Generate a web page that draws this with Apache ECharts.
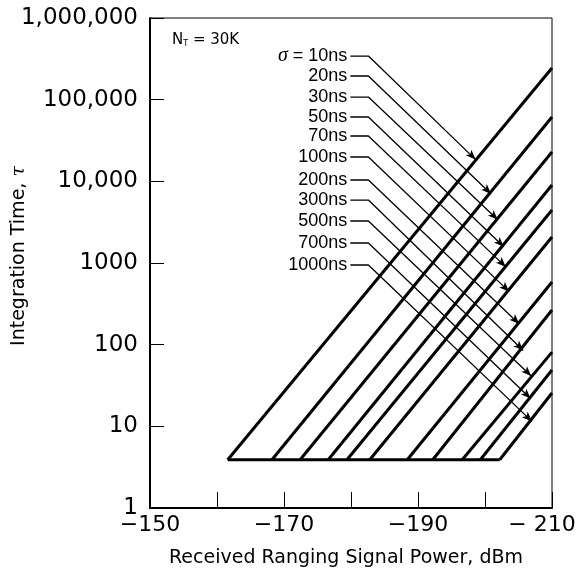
<!DOCTYPE html>
<html>
<head>
<meta charset="utf-8">
<script src="https://cdn.jsdelivr.net/npm/echarts@6/dist/echarts.min.js"></script>
<style>
  html, body { margin: 0; padding: 0; background: #fff; }
  #chart { width: 579px; height: 575px; }
</style>
</head>
<body>
<div id="chart"></div>
<script>
// values
var sigmaLabels = ['10ns', '20ns', '30ns', '50ns', '70ns', '100ns', '200ns', '300ns', '500ns', '700ns', '1000ns'];
var floorTau = 3.9;
var floorStart = -161.6;
var floorEnd = -202.2;
// dBm where each line leaves the floor
var curveStart = [-161.6, -168.2, -172.4, -176.6, -179.4, -182.8, -188.4, -192.2, -196.6, -199.3, -202.2];
// tau where each line meets -210 dBm
var curveEnd = [244000, 61300, 22900, 9010, 4450, 2080, 585, 266, 81, 49, 25.6];
// leader lines: label height, bend, arrow tip
var labelX = -179.9;
var bendX = -182.6;
var leaderY = [342000, 195000, 107700, 61300, 35900, 19850, 10380, 5900, 3270, 1758, 945];
var tipX = [-198.6, -200.9, -201.9, -202.8, -203.1, -203.6, -205.1, -205.7, -206.9, -206.8, -207.0];
var tipY = [18450, 7000, 3380, 1580, 896, 446, 179, 85, 41.3, 21.9, 11.5];

var yTickLabels = ['1', '10', '100', '1000', '10,000', '100,000', '1,000,000'];
var xTickLabels = { '-150': '−150', '-170': '−170', '-190': '−190', '-210': '{r|− 210}' };

var chart = echarts.init(document.getElementById('chart'));

var series = [];
series.push({
  type: 'line',
  data: [[floorStart, floorTau], [floorEnd, floorTau]],
  symbol: 'none',
  lineStyle: { color: '#000', width: 3 },
  silent: true
});
for (var i = 0; i < curveStart.length; i++) {
  series.push({
    type: 'line',
    data: [[curveStart[i], floorTau], [-210, curveEnd[i]]],
    symbol: 'none',
    lineStyle: { color: '#000', width: 3 },
    silent: true
  });
}
for (var j = 0; j < sigmaLabels.length; j++) {
  var txt = j === 0 ? '{i|σ}{t| = ' + sigmaLabels[j] + '}' : '{t|' + sigmaLabels[j] + '}';
  series.push({
    type: 'line',
    showSymbol: true,
    data: [
      {
        value: [labelX, leaderY[j]],
        symbol: 'circle',
        symbolSize: 0,
        label: {
          show: true,
          position: 'left',
          distance: 3,
          formatter: txt,
          rich: {
            i: { fontFamily: 'Liberation Serif', fontStyle: 'italic', fontSize: 20, color: '#000' },
            t: { fontFamily: 'Liberation Sans', fontSize: 18, color: '#000' }
          }
        }
      },
      { value: [bendX, leaderY[j]], symbol: 'none' },
      { value: [tipX[j], tipY[j]], symbol: 'arrow', symbolSize: [6, 10], symbolRotate: -135 }
    ],
    itemStyle: { color: '#000' },
    lineStyle: { color: '#000', width: 1.3 },
    silent: true
  });
}

var option = {
  animation: false,
  backgroundColor: '#fff',
  grid: {
    left: 150, right: 27, top: 18, bottom: 67,
    outerBoundsMode: 'none',
    show: true, borderColor: '#000', borderWidth: 1
  },
  xAxis: {
    type: 'value',
    inverse: true,
    min: -210,
    max: -150,
    interval: 10,
    name: 'Received Ranging Signal Power, dBm',
    nameLocation: 'middle',
    nameGap: 41,
    nameMoveOverlap: false,
    nameTextStyle: { fontFamily: 'DejaVu Sans', fontSize: 19, color: '#000', padding: [0, 10, 0, 0] },
    axisLine: { lineStyle: { color: '#000', width: 2 } },
    axisTick: { inside: true, length: 16, lineStyle: { color: '#000', width: 1 } },
    axisLabel: {
      margin: 6,
      fontFamily: 'DejaVu Sans',
      fontSize: 22,
      color: '#000',
      formatter: function (v) { return xTickLabels[String(v)] || ''; },
      rich: { r: { fontFamily: 'DejaVu Sans', fontSize: 22, color: '#000', padding: [0, 20, 0, 0] } }
    },
    splitLine: { show: false }
  },
  yAxis: {
    type: 'log',
    logBase: 10,
    min: 1,
    max: 1000000,
    name: 'Integration Time, {i|τ}',
    nameLocation: 'middle',
    nameGap: 121,
    nameMoveOverlap: false,
    nameTextStyle: {
      fontFamily: 'DejaVu Sans', fontSize: 19, color: '#000', padding: [0, 0, 0, 14],
      rich: { i: { fontFamily: 'DejaVu Serif', fontStyle: 'italic', fontSize: 19, color: '#000' } }
    },
    axisLine: { lineStyle: { color: '#000', width: 2 } },
    axisTick: { inside: true, length: 14, lineStyle: { color: '#000', width: 1 } },
    axisLabel: {
      margin: 12,
      fontFamily: 'DejaVu Sans',
      fontSize: 23,
      color: '#000',
      formatter: function (v) { return yTickLabels[Math.round(Math.log10(v))]; }
    },
    splitLine: { show: false }
  },
  graphic: [{
    type: 'text',
    left: 172,
    top: 33,
    style: {
      text: '{a|N}{s|T}{a| = 30K}',
      rich: {
        a: { fontFamily: 'DejaVu Sans', fontSize: 15, fill: '#000' },
        s: { fontFamily: 'DejaVu Sans', fontSize: 8, fill: '#000', verticalAlign: 'bottom' }
      }
    }
  }],
  series: series
};
chart.setOption(option);
</script>
</body>
</html>
